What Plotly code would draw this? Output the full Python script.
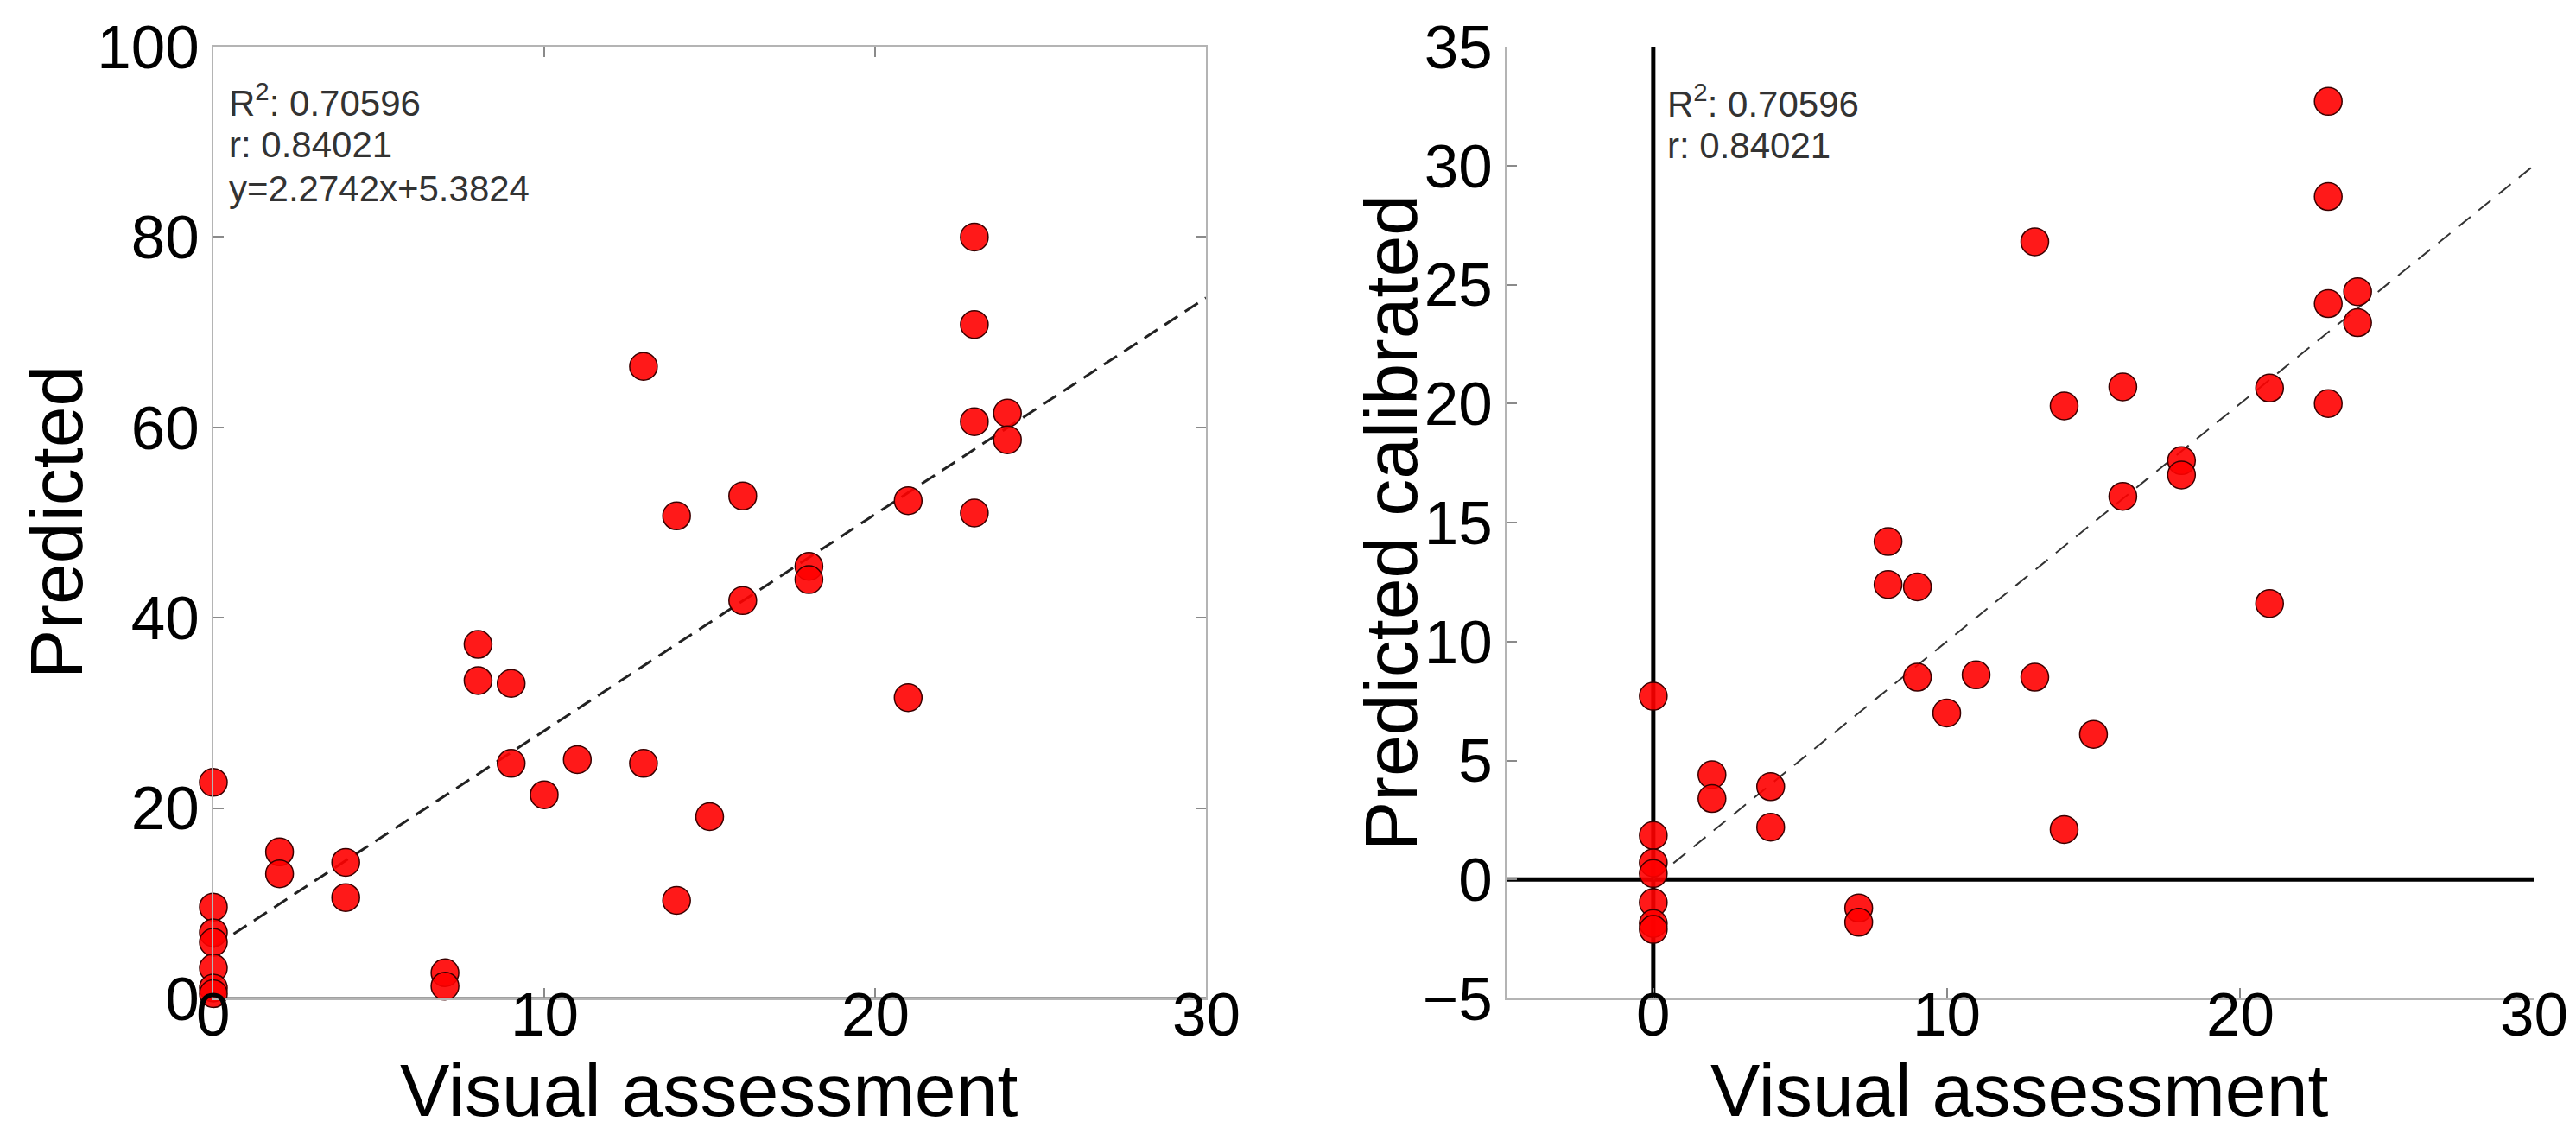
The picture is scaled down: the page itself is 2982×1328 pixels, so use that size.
import plotly.graph_objects as go

# ---- data ----
visual = [23, 23, 23, 23, 24, 24, 13, 13, 16, 16, 21, 21, 14, 14, 18, 18, 8, 8,
          9, 9, 11, 10, 15, 2, 2, 4, 4, 7, 7, 0, 0, 0, 0, 0, 0, 0]
predicted = [80.0, 70.8, 60.6, 51.0, 61.5, 58.7, 66.4, 24.7, 52.8, 41.8, 52.3, 31.6,
             50.7, 10.3, 45.4, 44.0, 37.2, 33.4, 33.1, 24.7, 25.1, 21.4, 19.1, 15.4,
             13.1, 14.3, 10.6, 2.7, 1.3, 22.7, 9.6, 6.9, 5.9, 3.2, 1.1, 0.5]
calibrated = [32.7, 28.7, 24.2, 20.0, 24.7, 23.4, 26.8, 8.5, 20.7, 16.1, 20.65, 11.6,
              19.9, 2.1, 17.6, 17.0, 14.2, 12.4, 12.3, 8.5, 8.6, 7.0, 6.1, 4.4,
              3.4, 3.9, 2.2, -1.2, -1.8, 7.7, 1.85, 0.7, 0.25, -0.97, -1.85, -2.1]

fit_left = {"slope": 2.2742, "intercept": 5.3824}
fit_right = {"slope": 1.0, "intercept": 0.0}
fit_x = [0, 30]

stats_left = ["R<sup>2</sup>: 0.70596", "r: 0.84021", "y=2.2742x+5.3824"]
stats_right = ["R<sup>2</sup>: 0.70596", "r: 0.84021"]

left_xticks = [0, 10, 20, 30]
left_yticks = [0, 20, 40, 60, 80, 100]
right_xticks = [0, 10, 20, 30]
right_yticks = [-5, 0, 5, 10, 15, 20, 25, 30, 35]

# ---- geometry ----
W, H = 2982, 1328
def px(v): return v / W
def py(v): return 1 - v / H

FONT = "Liberation Sans, Arial, sans-serif"
TICKFONT = dict(family=FONT, size=71, color="black")

fig = go.Figure()

marker = dict(size=32, color="rgba(255,0,0,0.9)", line=dict(color="#3a0000", width=1.5))

# left fit line
fig.add_trace(go.Scatter(
    x=fit_x, y=[fit_left["slope"] * v + fit_left["intercept"] for v in fit_x],
    mode="lines", line=dict(color="#222", width=3, dash="18px,10px"),
    xaxis="x", yaxis="y", showlegend=False, hoverinfo="skip"))
fig.add_trace(go.Scatter(
    x=visual, y=predicted, mode="markers", marker=marker, cliponaxis=False,
    xaxis="x", yaxis="y", showlegend=False))

# right fit line
fig.add_trace(go.Scatter(
    x=fit_x, y=[fit_right["slope"] * v + fit_right["intercept"] for v in fit_x],
    mode="lines", line=dict(color="#333", width=2, dash="18px,12px"),
    xaxis="x2", yaxis="y2", showlegend=False, hoverinfo="skip"))
fig.add_trace(go.Scatter(
    x=visual, y=calibrated, mode="markers", marker=marker, cliponaxis=False,
    xaxis="x2", yaxis="y2", showlegend=False))

axis_common = dict(showgrid=False, zeroline=False, ticks="inside", ticklen=12,
                   tickwidth=2, tickcolor="#8a8a8a", showline=True, linewidth=2,
                   linecolor="#b4b4b4", tickfont=TICKFONT, automargin=False)

ydom = [py(1148), py(46)]
fig.update_layout(
    template="none",
    width=W, height=H, margin=dict(l=0, r=0, t=0, b=0, autoexpand=False),
    paper_bgcolor="white", plot_bgcolor="white",
    xaxis=dict(domain=[px(239), px(1388)], range=[0, 30], tickvals=left_xticks,
               mirror="ticks", anchor="y", showticklabels=False, **axis_common),
    yaxis=dict(domain=ydom, range=[0, 100], tickvals=left_yticks,
               mirror="ticks", anchor="x", **axis_common),
    xaxis2=dict(domain=[px(1736), px(2925)], range=[-5, 30], tickvals=right_xticks,
                anchor="y2", showticklabels=False, **axis_common),
    yaxis2=dict(domain=ydom, range=[-5, 35], tickvals=right_yticks,
                anchor="x2", **axis_common),
)

# x tick labels (placed a little closer to the axis than plotly's default)
for xr, ticks in (("x", left_xticks), ("x2", right_xticks)):
    for t in ticks:
        fig.add_annotation(text=str(t), xref=xr, yref="paper", x=t, y=py(1166),
                           xanchor="center", yanchor="middle", showarrow=False,
                           font=TICKFONT)

# zero lines
fig.add_shape(type="line", xref="x", yref="y", x0=0, x1=30, y0=0, y1=0,
              line=dict(color="#444", width=3), layer="below")
fig.add_shape(type="line", xref="x2", yref="y2", x0=-5, x1=30, y0=0, y1=0,
              line=dict(color="black", width=5), layer="below")
fig.add_shape(type="line", xref="x2", yref="y2", x0=0, x1=0, y0=-5, y1=35,
              line=dict(color="black", width=5), layer="below")

# stats text
line_centers = [108, 160, 211]
for i, t in enumerate(stats_left):
    fig.add_annotation(text=t, xref="paper", yref="paper", x=px(255), y=py(line_centers[i]),
                       xanchor="left", yanchor="middle", showarrow=False,
                       font=dict(family=FONT, size=42, color="#333"))
for i, t in enumerate(stats_right):
    fig.add_annotation(text=t, xref="paper", yref="paper", x=px(1920), y=py(line_centers[i] + 1),
                       xanchor="left", yanchor="middle", showarrow=False,
                       font=dict(family=FONT, size=42, color="#333"))

# axis titles
TITLEFONT = dict(family=FONT, size=86, color="black")
fig.add_annotation(text="Visual assessment", xref="paper", yref="paper", x=px(813), y=py(1254),
                   xanchor="center", yanchor="middle", showarrow=False, font=TITLEFONT)
fig.add_annotation(text="Visual assessment", xref="paper", yref="paper", x=px(2330), y=py(1254),
                   xanchor="center", yanchor="middle", showarrow=False, font=TITLEFONT)
fig.add_annotation(text="Predicted", xref="paper", yref="paper", x=px(57), y=py(597),
                   xanchor="center", yanchor="middle", textangle=-90, showarrow=False, font=TITLEFONT)
fig.add_annotation(text="Predicted calibrated", xref="paper", yref="paper", x=px(1602), y=py(597),
                   xanchor="center", yanchor="middle", textangle=-90, showarrow=False, font=TITLEFONT)

fig.write_html("out.html")
